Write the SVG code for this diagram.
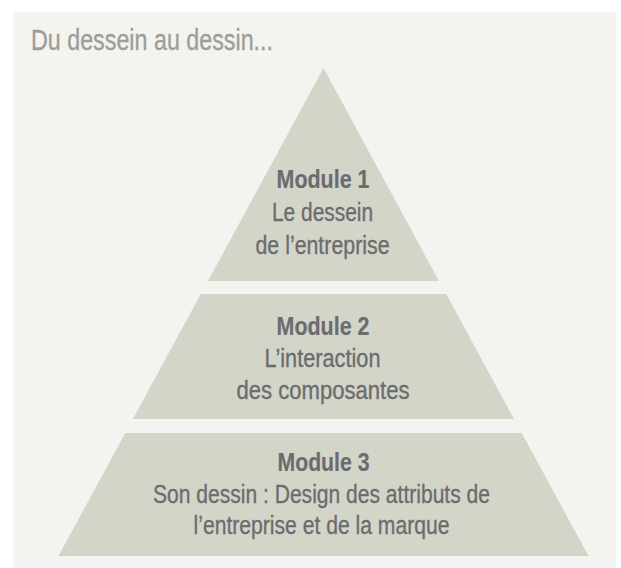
<svg xmlns="http://www.w3.org/2000/svg" width="621" height="568" viewBox="0 0 621 568">
<style>
.bg{fill:#ffffff}
.panel{fill:#f3f3ef}
.tier{fill:#d4d5c9}
.t{font-family:"Liberation Sans",Arial,sans-serif;font-size:26px;fill:#6b6c6e;stroke:#6b6c6e;stroke-width:0.35;text-anchor:middle}
.b{font-weight:bold;stroke-width:0.2}
.title{font-family:"Liberation Sans",Arial,sans-serif;font-size:29px;fill:#9d9e97;stroke:#9d9e97;stroke-width:0.35}
</style>
<rect class="bg" x="0" y="0" width="621" height="568"/>
<rect class="panel" x="13" y="12" width="603" height="556"/>
<text class="title" x="31" y="50" textLength="242" lengthAdjust="spacingAndGlyphs">Du dessein au dessin...</text>
<g id="module1">
<polygon class="tier" points="323.5,68 439,281 208,281"/>
<text class="t b" x="323" y="188.3" textLength="93" lengthAdjust="spacingAndGlyphs">Module 1</text>
<text class="t" x="322.5" y="221" textLength="101" lengthAdjust="spacingAndGlyphs">Le dessein</text>
<text class="t" x="322.5" y="253.5" textLength="134" lengthAdjust="spacingAndGlyphs">de l’entreprise</text>
</g>
<g id="module2">
<polygon class="tier" points="200.8,294 446.2,294 514,419 132.9,419"/>
<text class="t b" x="323" y="335" textLength="93" lengthAdjust="spacingAndGlyphs">Module 2</text>
<text class="t" x="322.5" y="367.3" textLength="116" lengthAdjust="spacingAndGlyphs">L’interaction</text>
<text class="t" x="323" y="399" textLength="173" lengthAdjust="spacingAndGlyphs">des composantes</text>
</g>
<g id="module3">
<polygon class="tier" points="125.3,433 521.7,433 588.5,556 58.5,556"/>
<text class="t b" x="323.5" y="470.7" textLength="92" lengthAdjust="spacingAndGlyphs">Module 3</text>
<text class="t" x="321.5" y="503.3" textLength="337" lengthAdjust="spacingAndGlyphs">Son dessin : Design des attributs de</text>
<text class="t" x="321.5" y="534" textLength="256" lengthAdjust="spacingAndGlyphs">l’entreprise et de la marque</text>
</g>
<g id="connectors"/>
</svg>
